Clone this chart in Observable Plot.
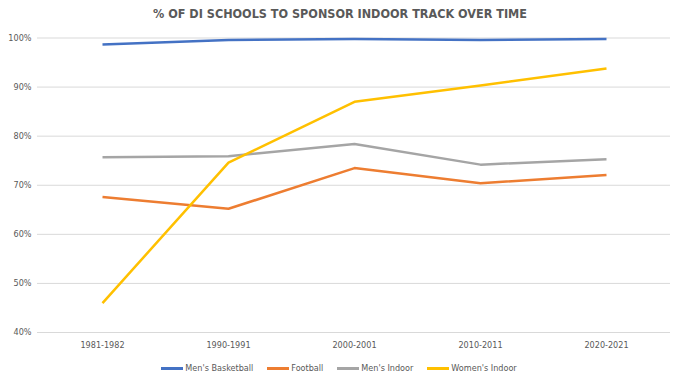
<!DOCTYPE html>
<html>
<head>
<meta charset="utf-8">
<script src="https://cdn.jsdelivr.net/npm/d3@7"></script>
<script src="https://cdn.jsdelivr.net/npm/@observablehq/plot@0.6"></script>
<style>
  html, body { margin: 0; padding: 0; background: #fff; width: 680px; height: 382px; overflow: hidden; }
  body { font-family: "Liberation Sans Narrow", "DejaVu Sans Condensed", "Open Sans", sans-serif; color: #595959; }
  #title { height: 28px; line-height: 28px; text-align: center; font-weight: bold; font-size: 12.5px; color: #595959; }
  #legend { display: flex; justify-content: center; align-items: center; gap: 14px; font-size: 9px; height: 28px; margin-left: -2px; }
  .item { display: flex; align-items: center; }
  .sw { width: 22px; height: 3px; margin-right: 2px; }
</style>
</head>
<body>
<div id="title">% OF DI SCHOOLS TO SPONSOR INDOOR TRACK OVER TIME</div>
<div id="chart"></div>
<div id="legend"></div>
<script>
const years = ["1981-1982", "1990-1991", "2000-2001", "2010-2011", "2020-2021"];
const seriesNames = ["Men's Basketball", "Football", "Men's Indoor", "Women's Indoor"];
const colors = ["#4472C4", "#ED7D31", "#A5A5A5", "#FFC000"];
const mensBasketball = [98.7, 99.6, 99.8, 99.6, 99.8];
const football = [67.6, 65.2, 73.5, 70.4, 72.1];
const mensIndoor = [75.7, 75.9, 78.4, 74.2, 75.3];
const womensIndoor = [46.0, 74.6, 87.0, 90.3, 93.8];
const yTicks = [40, 50, 60, 70, 80, 90, 100];

const allSeries = [mensBasketball, football, mensIndoor, womensIndoor];
const data = [];
seriesNames.forEach((s, i) => years.forEach((y, j) => data.push({series: s, year: y, value: allSeries[i][j]})));

const chart = Plot.plot({
  width: 680,
  height: 326,
  marginLeft: 37,
  marginRight: 10,
  marginTop: 9.5,
  marginBottom: 22,
  style: { fontFamily: "Liberation Sans Narrow, DejaVu Sans Condensed, Open Sans, sans-serif", fontSize: "9px", color: "#595959" },
  x: { type: "point", domain: years, padding: 0.5, label: null },
  y: { domain: [40, 100], ticks: yTicks, label: null },
  color: { domain: seriesNames, range: colors },
  marks: [
    Plot.ruleY(yTicks, { stroke: "#d9d9d9", strokeWidth: 1 }),
    Plot.axisY({ ticks: yTicks, tickSize: 0, tickPadding: 6, tickFormat: d => d + "%", label: null }),
    Plot.axisX({ tickSize: 0, tickPadding: 9, label: null }),
    Plot.line(data, { x: "year", y: "value", z: "series", stroke: "series", strokeWidth: 2.5, strokeLinecap: "butt", strokeLinejoin: "round" })
  ]
});
document.getElementById("chart").appendChild(chart);

const legend = document.getElementById("legend");
seriesNames.forEach((s, i) => {
  const it = document.createElement("div");
  it.className = "item";
  const sw = document.createElement("div");
  sw.className = "sw";
  sw.style.background = colors[i];
  const t = document.createElement("span");
  t.textContent = s;
  it.appendChild(sw); it.appendChild(t);
  legend.appendChild(it);
});
</script>
</body>
</html>
